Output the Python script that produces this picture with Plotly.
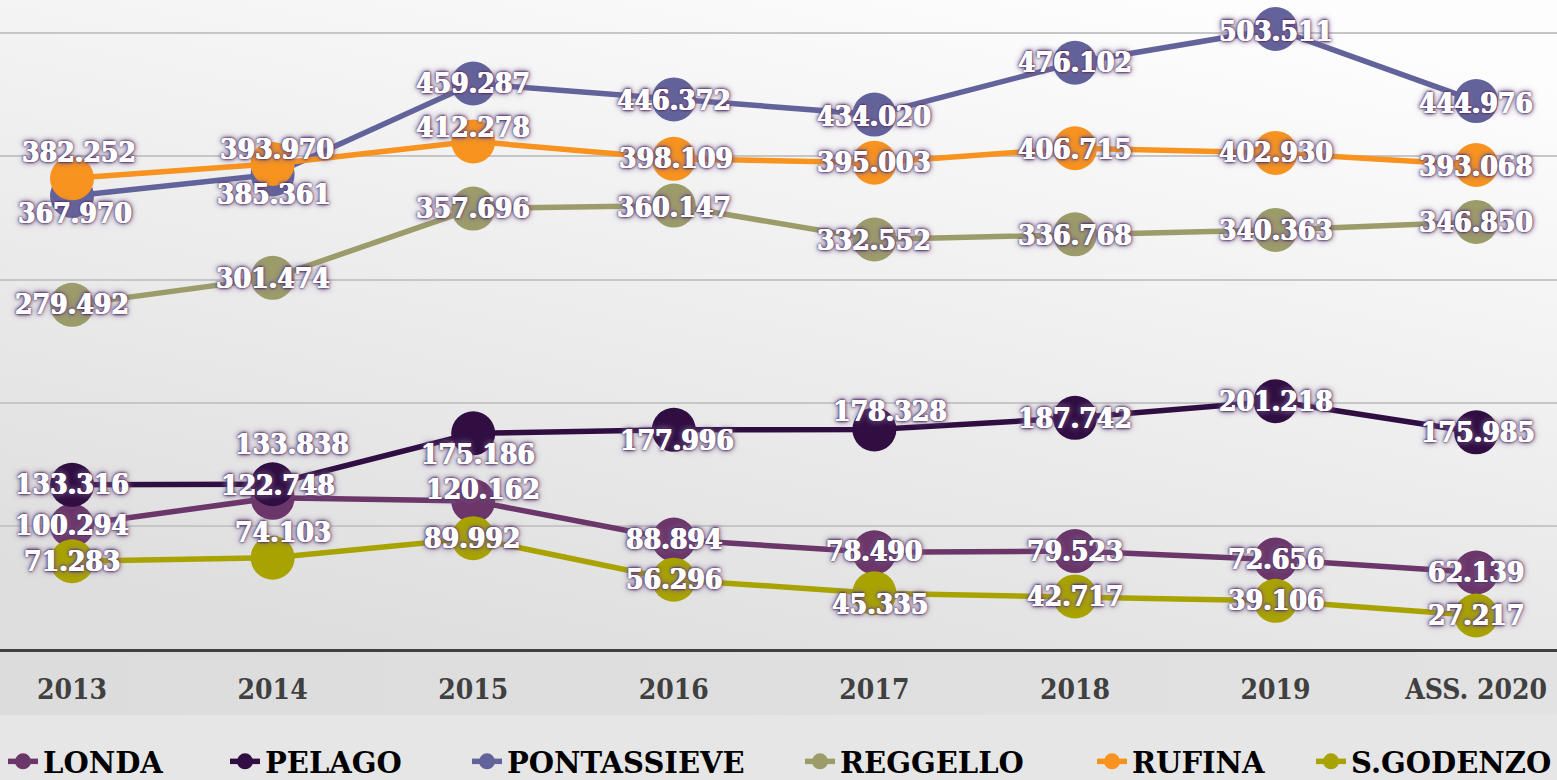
import base64
import plotly.graph_objects as go

# ---------------- data ----------------
categories = ["2013", "2014", "2015", "2016", "2017", "2018", "2019", "ASS. 2020"]
series_names = ["LONDA", "PELAGO", "PONTASSIEVE", "REGGELLO", "RUFINA", "S.GODENZO"]
londa = [100.294, 122.748, 120.162, 88.894, 78.490, 79.523, 72.656, 62.139]
pelago = [133.316, 133.838, 175.186, 177.996, 178.328, 187.742, 201.218, 175.985]
pontassieve = [367.970, 385.361, 459.287, 446.372, 434.020, 476.102, 503.511, 444.976]
reggello = [279.492, 301.474, 357.696, 360.147, 332.552, 336.768, 340.363, 346.850]
rufina = [382.252, 393.970, 412.278, 398.109, 395.003, 406.715, 402.930, 393.068]
sgodenzo = [71.283, 74.103, 89.992, 56.296, 45.335, 42.717, 39.106, 27.217]
values = [londa, pelago, pontassieve, reggello, rufina, sgodenzo]

# ---------------- styles ----------------
colors = ["#6b3669", "#300e42", "#62639b", "#9c9c6a", "#f7931e", "#a8a300"]
# label nudges in pixels (dx right, dy down) relative to each marker
label_dx = [
    [0, 5, 10, 0, 0, 0, 0, 0],
    [0, 19, 5, 3, 16, 0, 0, 2],
    [3, 1, 0, 0, 0, 0, 0, 0],
    [0, 0, 0, 0, 0, 0, 0, 0],
    [7, 4, 0, 2, 0, 0, 0, 0],
    [0, 10, -1, 0, 6, 0, 0, 0],
]
label_dy = [
    [0, -12, -12, 0, -1, 0, 0, 0],
    [0, -40, 21, 11, -18, 1, 0, 0],
    [18, 20, 0, 1, 2, 0, 2, 2],
    [0, 1, 0, 2, 1, 1, 1, 1],
    [-26, -14, -14, 0, 0, 1, 0, 1],
    [0, -25, 0, 0, 11, 0, 0, 0],
]
legend_widths = [177, 197, 288, 247, 174, 199]

W, H = 1557, 780
PLOT_H = 649
LABEL_FONT = "DejaVu Serif Condensed"
SHADOW = ("0.6px 0px 0px #ffffff, -0.6px 0px 0px #ffffff, "
          "0px 0px 2px #2d0f40, 0px 0px 3px #4a2466, 0px 0px 5px #6f5083, 0px 0px 7px #8f7a9c")

fig = go.Figure()
for name, vals, col, lw in zip(series_names, values, colors, legend_widths):
    fig.add_trace(go.Scatter(
        x=categories, y=vals, name=name, mode="lines+markers",
        line=dict(color=col, width=5.5),
        marker=dict(color=col, size=44),
        legendwidth=lw,
        hoverinfo="skip",
    ))

annotations = []
for vals, dxs, dys in zip(values, label_dx, label_dy):
    for i, (v, dx, dy) in enumerate(zip(vals, dxs, dys)):
        annotations.append(dict(
            x=i, y=v, xref="x", yref="y", text=f"{v:.3f}", showarrow=False,
            xanchor="center", yanchor="middle", xshift=dx, yshift=-dy,
            font=dict(family=LABEL_FONT, size=28, color="white", weight="bold",
                      shadow=SHADOW),
        ))

svg = f"""<svg xmlns='http://www.w3.org/2000/svg' width='{W}' height='{H}' preserveAspectRatio='none'>
<defs>
<linearGradient id='g' x1='0.75' y1='0' x2='0.25' y2='1'>
<stop offset='0' stop-color='#fdfdfd'/>
<stop offset='1' stop-color='#dedede'/>
</linearGradient>
<linearGradient id='b' x1='0' y1='0' x2='1' y2='0'>
<stop offset='0' stop-color='#dcdcdc'/>
<stop offset='1' stop-color='#e2e2e2'/>
</linearGradient>
</defs>
<rect width='{W}' height='{PLOT_H}' fill='url(#g)'/>
<rect y='{PLOT_H}' width='{W}' height='66' fill='url(#b)'/>
<rect y='{PLOT_H + 66}' width='{W}' height='{H - PLOT_H - 66}' fill='#e6e6e6'/>
</svg>"""
src = "data:image/svg+xml;base64," + base64.b64encode(svg.encode()).decode()

fig.update_layout(
    template="none",
    width=W, height=H,
    margin=dict(l=0, r=0, t=0, b=H - PLOT_H, pad=0),
    paper_bgcolor="#e6e6e6",
    plot_bgcolor="rgba(0,0,0,0)",
    showlegend=True,
    legend=dict(
        orientation="h", xref="container", yref="container",
        x=3 / W, y=1 - 736 / H, xanchor="left", yanchor="top",
        font=dict(family="DejaVu Serif", size=29, color="#000000", weight="bold"),
        bgcolor="rgba(0,0,0,0)", borderwidth=0,
    ),
    xaxis=dict(
        type="category", range=[-0.359, 7.403], showgrid=False, zeroline=False,
        showline=True, linecolor="#404040", linewidth=3, ticks="",
        tickfont=dict(family=LABEL_FONT, size=28, color="#404040", weight="bold"),
        ticklabelstandoff=13, automargin=False, fixedrange=True,
    ),
    yaxis=dict(
        range=[0, 527.1], showgrid=True, gridcolor="#c6c6c6", gridwidth=1.5,
        dtick=100, zeroline=False, showticklabels=False, ticks="",
        showline=False, automargin=False, fixedrange=True,
    ),
    annotations=annotations,
    images=[dict(
        source=src, xref="paper", yref="paper", x=0, y=1,
        sizex=1, sizey=H / PLOT_H, xanchor="left", yanchor="top",
        sizing="stretch", layer="below",
    )],
)

fig.write_html(
    "out.html",
    config={"displayModeBar": False},
    post_script="document.body.style.margin='0';document.body.style.overflow='hidden';",
)
